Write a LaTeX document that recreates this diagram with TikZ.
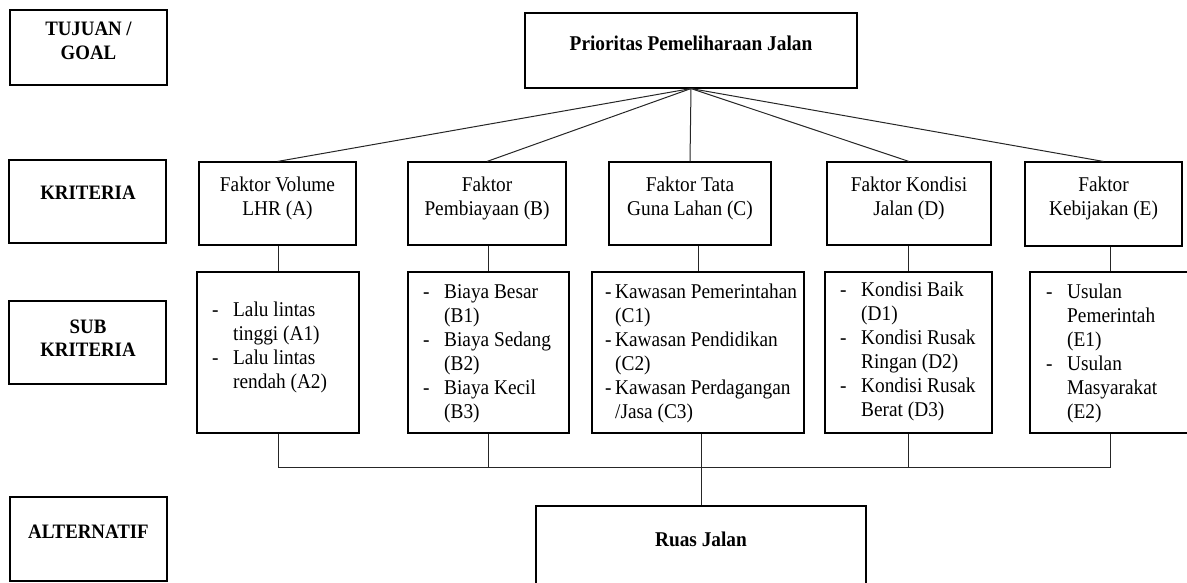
\documentclass[tikz,border=0pt]{standalone}
\usepackage{fontspec}
\setmainfont{Liberation Serif}[FakeStretch=0.92]
\usepackage{array}
\usetikzlibrary{fit}
\begin{document}
\begin{tikzpicture}[x=1pt,y=-1pt,
  box/.style={draw=black, line width=1.1pt, inner sep=0pt},
  lbl/.style={font=\fontsize{20.5}{23.5}\selectfont\bfseries, align=center, inner sep=0pt},
  crit/.style={font=\fontsize{21}{24}\selectfont, align=center, inner sep=0pt},
  subtxt/.style={font=\fontsize{21}{24}\selectfont, anchor=base west, inner sep=0pt},
  link/.style={line width=1pt, draw=black!85}]
\useasboundingbox (0,0) rectangle (1187,582);
% level label boxes
\node[box, fit={(10,10)(167,85)}] (lGoal) {};
\node[box, fit={(9,160)(166,243)}] (lKrit) {};
\node[box, fit={(9,301)(166,384)}] (lSub) {};
\node[box, fit={(10,497)(167,581)}] (lAlt) {};
\node[lbl] (tlGoal) at (88.5,41) {TUJUAN /\\GOAL};
\node[lbl] (tlKrit) at (88,193) {KRITERIA};
\node[lbl] (tlSub) at (88,338) {SUB\\KRITERIA};
\node[lbl] (tlAlt) at (88.5,532) {ALTERNATIF};
% goal
\node[box, fit={(525,13)(857,88)}] (goal) {};
\node[lbl, font=\fontsize{21}{24}\selectfont\bfseries] (tgoal) at (691,43) {Prioritas Pemeliharaan Jalan};
% criteria
\node[box, fit={(199,162)(356,245)}] (cA) {};
\node[box, fit={(408,162)(566,245)}] (cB) {};
\node[box, fit={(609,162)(771,245)}] (cC) {};
\node[box, fit={(827,162)(991,245)}] (cD) {};
\node[box, fit={(1025,162)(1182,246)}] (cE) {};
\node[crit] (tcA) at (277.5,198) {Faktor Volume\\LHR (A)};
\node[crit] (tcB) at (487,198) {Faktor\\Pembiayaan (B)};
\node[crit] (tcC) at (690,198) {Faktor Tata\\Guna Lahan (C)};
\node[crit] (tcD) at (909,198) {Faktor Kondisi\\Jalan (D)};
\node[crit] (tcE) at (1103.5,198) {Faktor\\Kebijakan (E)};
% sub criteria
\node[box, fit={(197,272)(359,433)}] (sA) {};
\node[box, fit={(408,272)(569,433)}] (sB) {};
\node[box, fit={(592,272)(804,433)}] (sC) {};
\node[box, fit={(825,272)(992,433)}] (sD) {};
\node[box, fit={(1030,272)(1190,433)}] (sE) {};
\node[subtxt] (tsA) at (212,316) {\begin{tabular}[t]{@{}p{21pt}@{}l@{}}-&Lalu lintas\\&tinggi (A1)\\-&Lalu lintas\\&rendah (A2)\end{tabular}};
\node[subtxt] (tsB) at (423,298) {\begin{tabular}[t]{@{}p{21pt}@{}l@{}}-&Biaya Besar\\&(B1)\\-&Biaya Sedang\\&(B2)\\-&Biaya Kecil\\&(B3)\end{tabular}};
\node[subtxt] (tsC) at (605,298) {\begin{tabular}[t]{@{}p{10pt}@{}l@{}}-&Kawasan Pemerintahan\\&(C1)\\-&Kawasan Pendidikan\\&(C2)\\-&Kawasan Perdagangan\\&/Jasa (C3)\end{tabular}};
\node[subtxt] (tsD) at (840,296) {\begin{tabular}[t]{@{}p{21pt}@{}l@{}}-&Kondisi Baik\\&(D1)\\-&Kondisi Rusak\\&Ringan (D2)\\-&Kondisi Rusak\\&Berat (D3)\end{tabular}};
\node[subtxt] (tsE) at (1046,298) {\begin{tabular}[t]{@{}p{21pt}@{}l@{}}-&Usulan\\&Pemerintah\\&(E1)\\-&Usulan\\&Masyarakat\\&(E2)\end{tabular}};
% alternative
\node[box, fit={(536,506)(866,592)}] (ruas) {};
\node[lbl, font=\fontsize{21}{24}\selectfont\bfseries] (truas) at (701,539) {Ruas Jalan};
% connectors goal -> criteria
\foreach \c in {cA,cB,cC,cD,cE}{
  \draw[link] (goal.south) -- (\c.north);
}
% criteria -> sub
\foreach \c/\s in {cA/sA,cB/sB,cC/sC,cD/sD,cE/sE}{
  \draw[link] (\c.south -| \s.north) -- (\s.north);
}
% sub -> bus -> alternative
\coordinate (bus) at (0,467);
\draw[link] (sA.south) -- (sA.south |- bus) -- (sE.south |- bus) -- (sE.south);
\foreach \s in {sB,sD}{
  \draw[link] (\s.south) -- (\s.south |- bus);
}
\draw[link] (ruas.north) -- (ruas.north |- sC.south);
\end{tikzpicture}
\end{document}
